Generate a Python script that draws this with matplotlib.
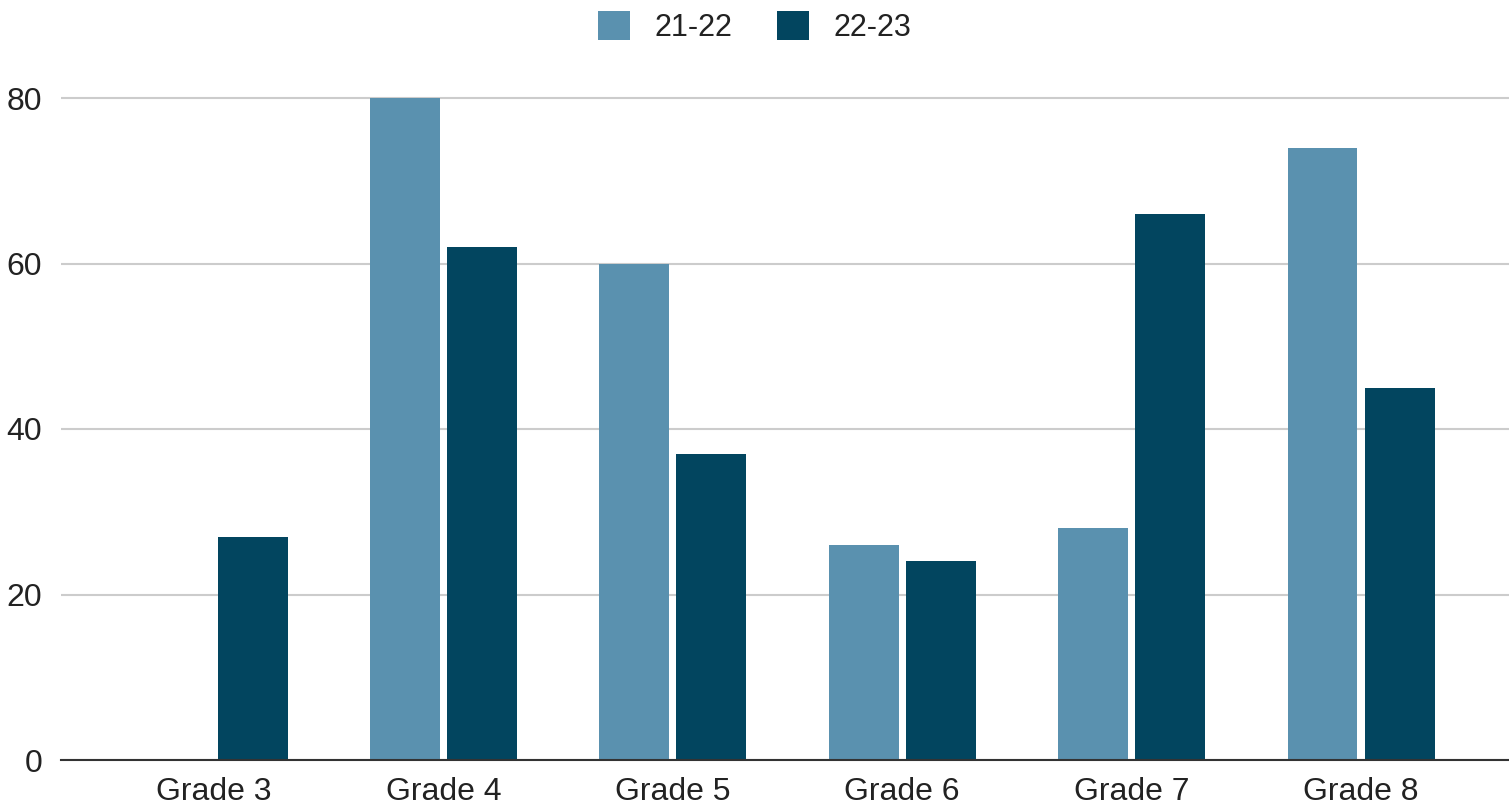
import numpy as np
import matplotlib.pyplot as plt

grades = ['Grade 3', 'Grade 4', 'Grade 5', 'Grade 6', 'Grade 7', 'Grade 8']
series_names = ['21-22', '22-23']
vals_2122 = [0, 80, 60, 26, 28, 74]
vals_2223 = [27, 62, 37, 24, 66, 45]
colors = ['#5a91af', '#02455f']

plt.rcParams['font.family'] = ['Liberation Sans', 'DejaVu Sans']

fig = plt.figure(figsize=(15.09, 8.11), dpi=100)
ax = fig.add_axes([61 / 1509, 1 - 760 / 811, 1448 / 1509, (760 - 70) / 811])

x = np.arange(len(grades))
w = 0.305
off = 0.168
ax.bar(x - off, vals_2122, w, color=colors[0], label=series_names[0], zorder=3)
ax.bar(x + off, vals_2223, w, color=colors[1], label=series_names[1], zorder=3)

ax.set_xlim(-0.667, 5.645)
ax.set_ylim(0, 80 * 690 / 662)
ax.set_yticks([0, 20, 40, 60, 80])
ax.set_xticks(x)
ax.set_xticklabels(grades)
ax.tick_params(axis='both', length=0, labelsize=23, colors='#222222')
ax.tick_params(axis='y', pad=13.5)
ax.tick_params(axis='x', pad=12)
ax.grid(axis='y', color='#cccccc', linewidth=1.5, zorder=0)
for s in ['top', 'right', 'left']:
    ax.spines[s].set_visible(False)
ax.spines['bottom'].set_color('#333333')
ax.spines['bottom'].set_linewidth(1.5)
ax.spines['bottom'].set_zorder(4)

# legend along the top
leg = fig.legend(loc='upper center', bbox_to_anchor=(0.5, 1.02), ncol=2, frameon=False,
                 fontsize=22, handlelength=1.05, handleheight=1.05, columnspacing=1.45,
                 handletextpad=0.8)
for t in leg.get_texts():
    t.set_color('#222222')

fig.savefig('out.png', dpi=100)
